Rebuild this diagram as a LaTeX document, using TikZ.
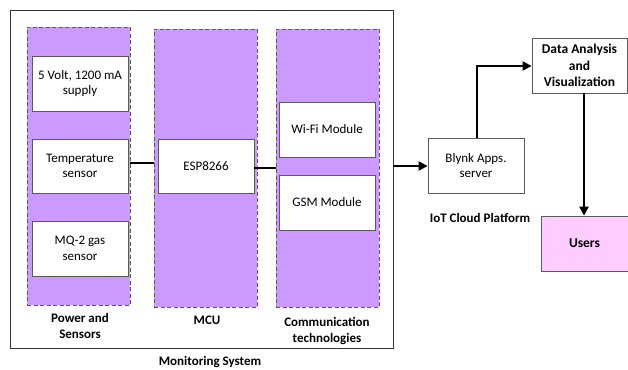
\documentclass[tikz,border=0pt]{standalone}
\usepackage{fontspec}
\setmainfont{Carlito}
\usetikzlibrary{arrows.meta}
\definecolor{grp}{RGB}{204,153,255}
\definecolor{usr}{RGB}{255,204,255}
\definecolor{edge}{RGB}{90,90,90}
\begin{document}
\begin{tikzpicture}[x=1pt,y=-1pt,
  font=\fontsize{13}{15.5}\selectfont,
  group/.style={draw=edge,fill=grp,line width=0.9pt,dash pattern=on 4pt off 2.5pt},
  wbox/.style={draw=edge,fill=white,line width=0.8pt,align=center,inner sep=0pt},
  lbl/.style={font=\fontsize{13}{16.5}\selectfont\bfseries,align=center},
  conn/.style={line width=2.2pt},
  arr/.style={line width=2.2pt,-{Triangle[length=9pt,width=9pt]}}]
\useasboundingbox (0,0) rectangle (628,369);
\fill[white] (0,0) rectangle (628,369);
% outer box
\draw[line width=1pt,draw=black!80] (10,11) rectangle (393,348);
% groups
\node[group,minimum width=103pt,minimum height=278pt,inner sep=0pt] (g1) at (78.5,166) {};
\node[group,minimum width=103pt,minimum height=278pt,inner sep=0pt] (g2) at (205.5,168) {};
\node[group,minimum width=103pt,minimum height=278pt,inner sep=0pt] (g3) at (327.5,168) {};
% boxes
\node[wbox,minimum width=96pt,minimum height=55pt] (sup) at (80,83.5) {5 Volt, 1200 mA\\supply};
\node[wbox,minimum width=96pt,minimum height=54pt] (tmp) at (80,166) {Temperature\\sensor};
\node[wbox,minimum width=96pt,minimum height=55pt] (mq) at (80,248.5) {MQ-2 gas\\sensor};
\node[wbox,minimum width=96pt,minimum height=54pt] (esp) at (206,166) {ESP8266};
\node[wbox,minimum width=96pt,minimum height=55pt] (wifi) at (327,129.5) {Wi-Fi Module};
\node[wbox,minimum width=96pt,minimum height=55pt] (gsm) at (327,202.5) {GSM Module};
\node[wbox,minimum width=96pt,minimum height=55pt] (blynk) at (476,165.5) {Blynk Apps.\\server};
\node[wbox,minimum width=95pt,minimum height=55pt,font=\fontsize{13.5}{16.5}\selectfont\bfseries] (da) at (579.5,65.5) {Data Analysis\\and\\Visualization};
\node[wbox,fill=usr,minimum width=87pt,minimum height=55pt,font=\fontsize{13.5}{16}\selectfont\bfseries] (users) at (584.5,243.5) {Users};
% labels
\node[lbl] (l1) at (80,326) {Power and\\Sensors};
\node[lbl] (l2) at (207,320) {MCU};
\node[lbl] (l3) at (327,331) {Communication\\technologies};
\node[lbl] (l4) at (210,362) {Monitoring System};
\node[lbl] (l5) at (480,218) {IoT Cloud Platform};
% connectors
\coordinate (ob) at (393,166);
\draw[conn] (g1.east |- 0,163) -- (g2.west |- 0,163);
\draw[conn] (esp.east |- 0,168) -- (g3.west |- 0,168);
\draw[arr] (ob) -- (blynk.west |- ob);
\draw[arr] (blynk.north -| 477,0) |- (da.west |- 0,66);
\draw[arr] (da.south -| 584,0) -- (users.north -| 584,0);
\end{tikzpicture}
\end{document}
